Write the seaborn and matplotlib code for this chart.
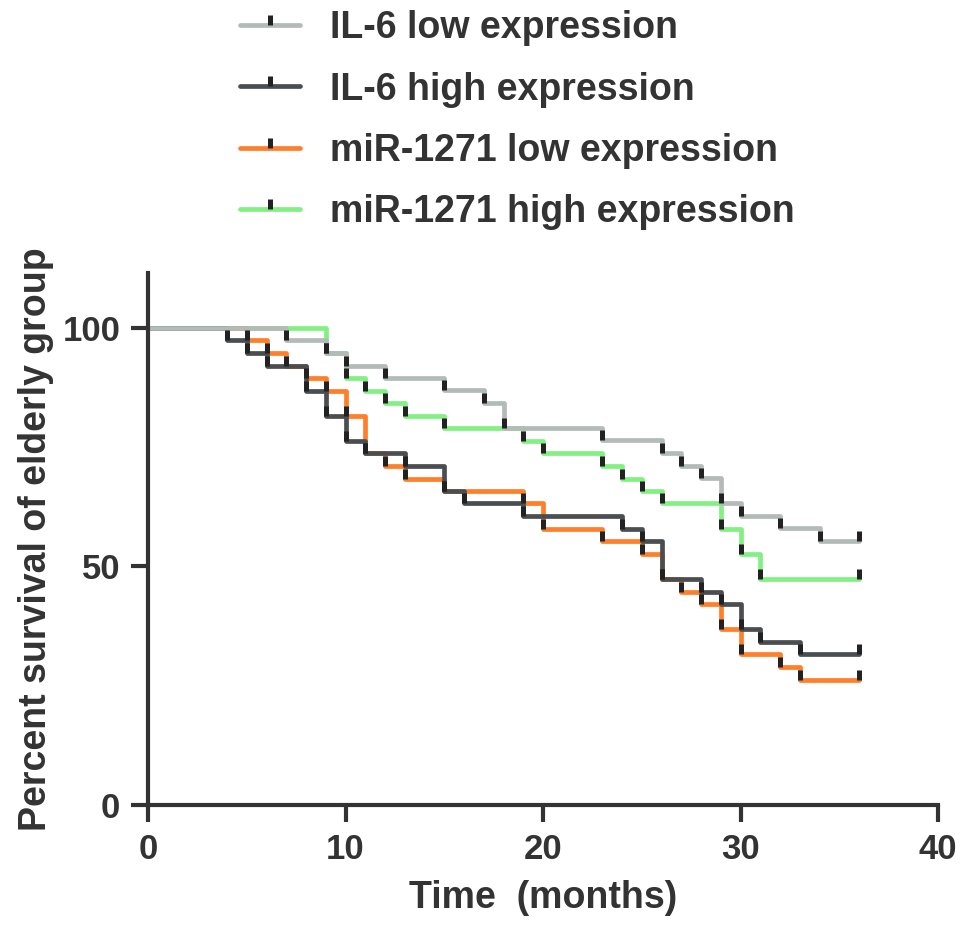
import numpy as np
import pandas as pd
import seaborn as sns
import matplotlib
matplotlib.use("Agg")
import matplotlib.pyplot as plt
from matplotlib.path import Path
from matplotlib.lines import Line2D

# step times (months) and survival (%)
groups = ["IL-6 low expression", "IL-6 high expression",
          "miR-1271 low expression", "miR-1271 high expression"]

time_il6_low = [0, 7, 9, 10, 12, 15, 17, 18, 23, 26, 27, 28, 29, 30, 32, 34]
surv_il6_low = [100, 97.4, 94.7, 92.1, 89.5, 86.9, 84.3, 79.0, 76.4, 73.8, 71.1, 68.5, 63.3, 60.6, 58.0, 55.3]

time_il6_high = [0, 4, 5, 6, 8, 9, 10, 11, 13, 15, 16, 19, 24, 25, 26, 28, 29, 30, 31, 33]
surv_il6_high = [100, 97.4, 94.7, 92.1, 86.8, 81.6, 76.3, 73.7, 71.1, 65.8, 63.2, 60.5, 57.9, 55.3, 47.4, 44.7, 42.1, 36.8, 34.2, 31.6]

time_mir_low = [0, 5, 6, 7, 8, 9, 10, 11, 12, 13, 15, 19, 20, 23, 25, 26, 27, 28, 29, 30, 32, 33]
surv_mir_low = [100, 97.4, 94.7, 92.1, 89.5, 86.8, 81.6, 73.7, 71.1, 68.4, 65.8, 63.2, 57.9, 55.3, 52.6, 47.4, 44.7, 42.1, 36.8, 31.6, 28.9, 26.3]

time_mir_high = [0, 9, 10, 11, 12, 13, 15, 19, 20, 23, 24, 25, 26, 29, 30, 31]
surv_mir_high = [100, 94.7, 89.5, 86.8, 84.2, 81.6, 79.0, 76.3, 73.7, 71.0, 68.4, 65.8, 63.2, 57.9, 52.6, 47.4]

end_time = 36

colors = {"IL-6 low expression": "#b3bbb8",
          "IL-6 high expression": "#4b4e50",
          "miR-1271 low expression": "#ff7f2a",
          "miR-1271 high expression": "#82f082"}

series = {"IL-6 low expression": (time_il6_low, surv_il6_low),
          "IL-6 high expression": (time_il6_high, surv_il6_high),
          "miR-1271 low expression": (time_mir_low, surv_mir_low),
          "miR-1271 high expression": (time_mir_high, surv_mir_high)}

rows = []
for g, (t, s) in series.items():
    for ti, si in zip(list(t) + [end_time], list(s) + [s[-1]]):
        rows.append({"time": ti, "surv": si, "group": g})
df = pd.DataFrame(rows)

sns.set_style("ticks")
plt.rcParams["font.family"] = ["Liberation Sans", "DejaVu Sans"]
plt.rcParams["font.weight"] = "bold"
text_col = "#333333"

fig = plt.figure(figsize=(9.69, 9.39), dpi=100)
ax = fig.add_axes([148 / 969, 1 - 805 / 939, 790 / 969, 532 / 939])

draw_order = ["miR-1271 high expression", "miR-1271 low expression",
              "IL-6 high expression", "IL-6 low expression"]
sns.lineplot(data=df, x="time", y="surv", hue="group", hue_order=draw_order,
             palette=colors, drawstyle="steps-post", linewidth=3.4,
             estimator=None, legend=False, ax=ax)

# censor ticks, drawn upward from the curve
tick_mark = Path([(0, 0), (0, 1)])
for g in draw_order:
    t, s = series[g]
    ax.plot(list(t[1:]) + [end_time], list(s[1:]) + [s[-1]], ls="none",
            marker=tick_mark, ms=15, mew=3.6, mec="#222222", mfc="none")

ax.set_xlim(0, 40)
ax.set_ylim(0, 111.5)
ax.set_xticks([0, 10, 20, 30, 40])
ax.set_yticks([0, 50, 100])
ax.set_xlabel("Time  (months)", fontsize=27, fontweight="bold", color=text_col, labelpad=10)
ax.set_ylabel("Percent survival of elderly group", fontsize=27, fontweight="bold", color=text_col, labelpad=6)
ax.tick_params(axis="both", direction="out", length=12, width=3, color=text_col,
               labelsize=25, labelcolor=text_col, bottom=True, left=True)
ax.tick_params(axis="x", pad=8)
ax.tick_params(axis="y", pad=8)
for lab in ax.get_xticklabels() + ax.get_yticklabels():
    lab.set_fontweight("bold")
sns.despine(ax=ax)
for side in ["left", "bottom"]:
    ax.spines[side].set_linewidth(3)
    ax.spines[side].set_color(text_col)

handles = [Line2D([], [], color=colors[g], lw=3.4, marker=tick_mark, ms=15,
                  mew=3.6, mec="#222222", mfc="none") for g in groups]
leg = fig.legend(handles, groups, loc="upper left", bbox_to_anchor=(240 / 969, 1 - 10 / 939),
                 frameon=False, fontsize=27, handlelength=1.6, handletextpad=0.8,
                 labelspacing=0.68, borderpad=0, borderaxespad=0, numpoints=1)
for txt in leg.get_texts():
    txt.set_color(text_col)
    txt.set_fontweight("bold")

fig.savefig("out.png", dpi=100)
